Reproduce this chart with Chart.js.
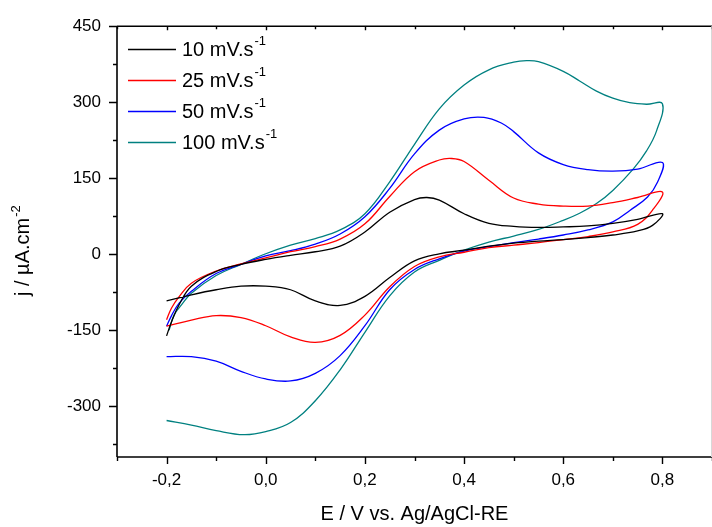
<!DOCTYPE html>
<html>
<head>
<meta charset="utf-8">
<script src="https://cdn.jsdelivr.net/npm/chart.js@4.4.1/dist/chart.umd.min.js"></script>
<style>
  html, body { margin: 0; padding: 0; background: #ffffff; }
  #wrap { width: 712px; height: 527px; position: relative; }
</style>
</head>
<body>
<div id="wrap"><canvas id="c" width="712" height="527"></canvas></div>
<script>
// ---- data (E in V, j in µA.cm-2), each loop: forward sweep then reverse sweep ----
const seriesBase = ['10 mV.s', '25 mV.s', '50 mV.s', '100 mV.s'];
const seriesSup = ['-1', '-1', '-1', '-1'];
const seriesColors = ['#000000', '#ff0000', '#0000ff', '#008080'];

const E10 = [-0.2, -0.19, -0.175, -0.15, -0.1, -0.05, 0, 0.05, 0.1, 0.15, 0.2, 0.25, 0.3, 0.325, 0.35, 0.4, 0.45, 0.5, 0.55, 0.6, 0.65, 0.7, 0.75, 0.8,
             0.78, 0.75, 0.7, 0.65, 0.6, 0.55, 0.5, 0.45, 0.4, 0.35, 0.3, 0.25, 0.2, 0.15, 0.1, 0.05, 0, -0.05, -0.1, -0.15, -0.2];
const J10 = [-161, -133, -100, -63, -34, -20, -10, -2, 5, 16, 44, 83, 108, 112, 107, 80, 61, 55, 53, 54, 56, 61, 69, 80,
             57, 46, 38, 33, 29, 26, 22, 16, 8, 1, -13, -46, -83, -101, -92, -70, -63, -63, -70, -80, -92];

const E25 = [-0.2, -0.19, -0.175, -0.15, -0.1, -0.05, 0, 0.05, 0.1, 0.15, 0.2, 0.25, 0.3, 0.35, 0.375, 0.4, 0.45, 0.5, 0.55, 0.6, 0.65, 0.7, 0.75, 0.8,
             0.78, 0.75, 0.7, 0.65, 0.6, 0.55, 0.5, 0.45, 0.4, 0.35, 0.3, 0.25, 0.2, 0.15, 0.1, 0.05, 0, -0.05, -0.1, -0.15, -0.2];
const J25 = [-129, -106, -84, -57, -33, -19, -7, 5, 15, 30, 60, 114, 163, 186, 189, 183, 146, 111, 99, 95, 95, 102, 112, 123,
             87, 59, 44, 35, 29, 23, 18, 13, 4, -5, -24, -64, -120, -160, -174, -163, -141, -125, -121, -130, -142];

const E50 = [-0.2, -0.19, -0.175, -0.15, -0.1, -0.05, 0, 0.05, 0.1, 0.15, 0.2, 0.25, 0.3, 0.35, 0.4, 0.44, 0.475, 0.5, 0.55, 0.6, 0.65, 0.7, 0.75, 0.8,
             0.79, 0.77, 0.735, 0.7, 0.65, 0.6, 0.55, 0.5, 0.45, 0.4, 0.35, 0.3, 0.25, 0.2, 0.15, 0.1, 0.05, 0, -0.05, -0.1, -0.15, -0.2];
const J50 = [-142, -121, -97, -73, -38, -20, -3, 7, 20, 40, 74, 130, 198, 245, 267, 270, 259, 242, 200, 177, 167, 164, 168, 181,
             142, 113, 87, 64, 48, 38, 30, 23, 15, 6, -9, -30, -70, -141, -200, -235, -250, -246, -231, -211, -202, -202];

const E100 = [-0.195, -0.185, -0.17, -0.15, -0.1, -0.05, 0, 0.05, 0.1, 0.15, 0.2, 0.25, 0.3, 0.35, 0.4, 0.45, 0.5, 0.526, 0.55, 0.6, 0.633, 0.667, 0.7, 0.734, 0.768, 0.8,
              0.788, 0.768, 0.741, 0.7, 0.667, 0.633, 0.6, 0.55, 0.5, 0.45, 0.4, 0.35, 0.3, 0.25, 0.2, 0.15, 0.1, 0.05, 0, -0.044, -0.1, -0.15, -0.2];
const J100 = [-150, -120, -100, -77, -42, -20, 1, 18, 31, 48, 80, 143, 217, 287, 334, 364, 379, 382, 380, 361, 342, 322, 308, 299, 296, 297,
              243, 204, 168, 126, 100, 81, 67, 49, 36, 24, 8, -12, -35, -82, -154, -228, -289, -332, -350, -356, -348, -337, -328];

const seriesE = [E10, E25, E50, E100];
const seriesJ = [J10, J25, J50, J100];

// ---- axes ----
const xMajorTicks = [-0.2, 0.0, 0.2, 0.4, 0.6, 0.8];
const xMinorTicks = [-0.3, -0.1, 0.1, 0.3, 0.5, 0.7, 0.9];
const yMajorTicks = [-300, -150, 0, 150, 300, 450];
const yMinorTicks = [-375, -225, -75, 75, 225, 375];
const xMin = -0.3, xMax = 0.9, yMin = -400, yMax = 450;
const xTitle = 'E / V vs. Ag/AgCl-RE';
const yTitleBase = 'j / µA.cm';
const yTitleSup = '-2';

const FONT = '"Liberation Sans", Arial, Helvetica, sans-serif';

const datasets = seriesBase.map((b, i) => ({
  label: b + seriesSup[i],
  data: seriesE[i].map((e, k) => ({ x: e, y: seriesJ[i][k] })),
  borderColor: seriesColors[i],
  backgroundColor: seriesColors[i],
  borderWidth: 1.3,
  pointRadius: 0,
  showLine: true,
  fill: false,
  tension: 0.4
}));

const decoPlugin = {
  id: 'deco',
  afterDraw(chart) {
    const ctx = chart.ctx;
    const xs = chart.scales.x, ys = chart.scales.y;
    const a = chart.chartArea;
    ctx.save();
    ctx.strokeStyle = '#000';
    ctx.lineWidth = 1.6;
    ctx.beginPath();
    ctx.moveTo(a.left, a.top); ctx.lineTo(a.left, a.bottom);
    ctx.moveTo(a.left, a.bottom); ctx.lineTo(a.right, a.bottom);
    ctx.moveTo(a.left, a.top); ctx.lineTo(a.right, a.top);
    ctx.stroke();
    ctx.strokeStyle = '#d8d8d8';
    ctx.lineWidth = 1;
    ctx.beginPath(); ctx.moveTo(a.right - 0.5, a.top); ctx.lineTo(a.right - 0.5, a.bottom); ctx.stroke();
    ctx.strokeStyle = '#000';
    ctx.lineWidth = 1.4;
    ctx.beginPath();
    xMajorTicks.forEach(v => { const p = Math.round(xs.getPixelForValue(v)) + 0.5; ctx.moveTo(p, a.bottom); ctx.lineTo(p, a.bottom + 7); ctx.moveTo(p, a.top); ctx.lineTo(p, a.top + 4); });
    xMinorTicks.forEach(v => { const p = Math.round(xs.getPixelForValue(v)) + 0.5; ctx.moveTo(p, a.bottom); ctx.lineTo(p, a.bottom + 4); ctx.moveTo(p, a.top); ctx.lineTo(p, a.top + 3); });
    yMajorTicks.forEach(v => { const p = Math.round(ys.getPixelForValue(v)) + 0.5; ctx.moveTo(a.left, p); ctx.lineTo(a.left - 8, p); });
    yMinorTicks.forEach(v => { const p = Math.round(ys.getPixelForValue(v)) + 0.5; ctx.moveTo(a.left, p); ctx.lineTo(a.left - 4, p); });
    ctx.stroke();

    // legend
    ctx.textBaseline = 'middle';
    ctx.textAlign = 'left';
    seriesBase.forEach((b, i) => {
      const y = 49.5 + i * 31;
      ctx.strokeStyle = seriesColors[i];
      ctx.lineWidth = 1.3;
      ctx.beginPath(); ctx.moveTo(128, y); ctx.lineTo(176, y); ctx.stroke();
      ctx.fillStyle = '#000';
      ctx.font = '20px ' + FONT;
      ctx.fillText(b, 182, y + 1);
      const w = ctx.measureText(b).width;
      ctx.font = '13px ' + FONT;
      ctx.fillText(seriesSup[i], 182 + w + 1, y - 8);
    });

    // x title
    ctx.fillStyle = '#000';
    ctx.font = '20px ' + FONT;
    ctx.textAlign = 'center';
    ctx.textBaseline = 'alphabetic';
    ctx.fillText(xTitle, (a.left + a.right) / 2, 520);

    // y title (rotated)
    ctx.save();
    ctx.translate(29, 296);
    ctx.rotate(-Math.PI / 2);
    ctx.textAlign = 'left';
    ctx.font = '20px ' + FONT;
    ctx.fillText(yTitleBase, 0, 0);
    const wy = ctx.measureText(yTitleBase).width;
    ctx.font = '13px ' + FONT;
    ctx.fillText(yTitleSup, wy + 1, -9);
    ctx.restore();
    ctx.restore();
  }
};

new Chart(document.getElementById('c'), {
  type: 'scatter',
  data: { datasets },
  options: {
    responsive: false,
    animation: false,
    layout: { padding: { top: 22, right: 0, left: 0, bottom: 0 } },
    plugins: { legend: { display: false }, tooltip: { enabled: false } },
    scales: {
      x: {
        type: 'linear', min: xMin, max: xMax,
        grid: { display: false, drawTicks: false },
        border: { display: false },
        afterBuildTicks: s => { s.ticks = xMajorTicks.map(v => ({ value: v })); },
        afterFit: s => { s.height = 70; },
        ticks: {
          color: '#000', padding: 13, maxRotation: 0, autoSkip: false,
          font: { family: FONT, size: 17 },
          callback: v => v.toFixed(1).replace('.', ',')
        }
      },
      y: {
        type: 'linear', min: yMin, max: yMax,
        grid: { display: false, drawTicks: false },
        border: { display: false },
        afterBuildTicks: s => { s.ticks = yMajorTicks.map(v => ({ value: v })); },
        afterFit: s => { s.width = 117; },
        ticks: {
          color: '#000', padding: 16, autoSkip: false,
          font: { family: FONT, size: 17 },
          callback: v => String(v)
        }
      }
    }
  },
  plugins: [decoPlugin]
});
</script>
</body>
</html>
